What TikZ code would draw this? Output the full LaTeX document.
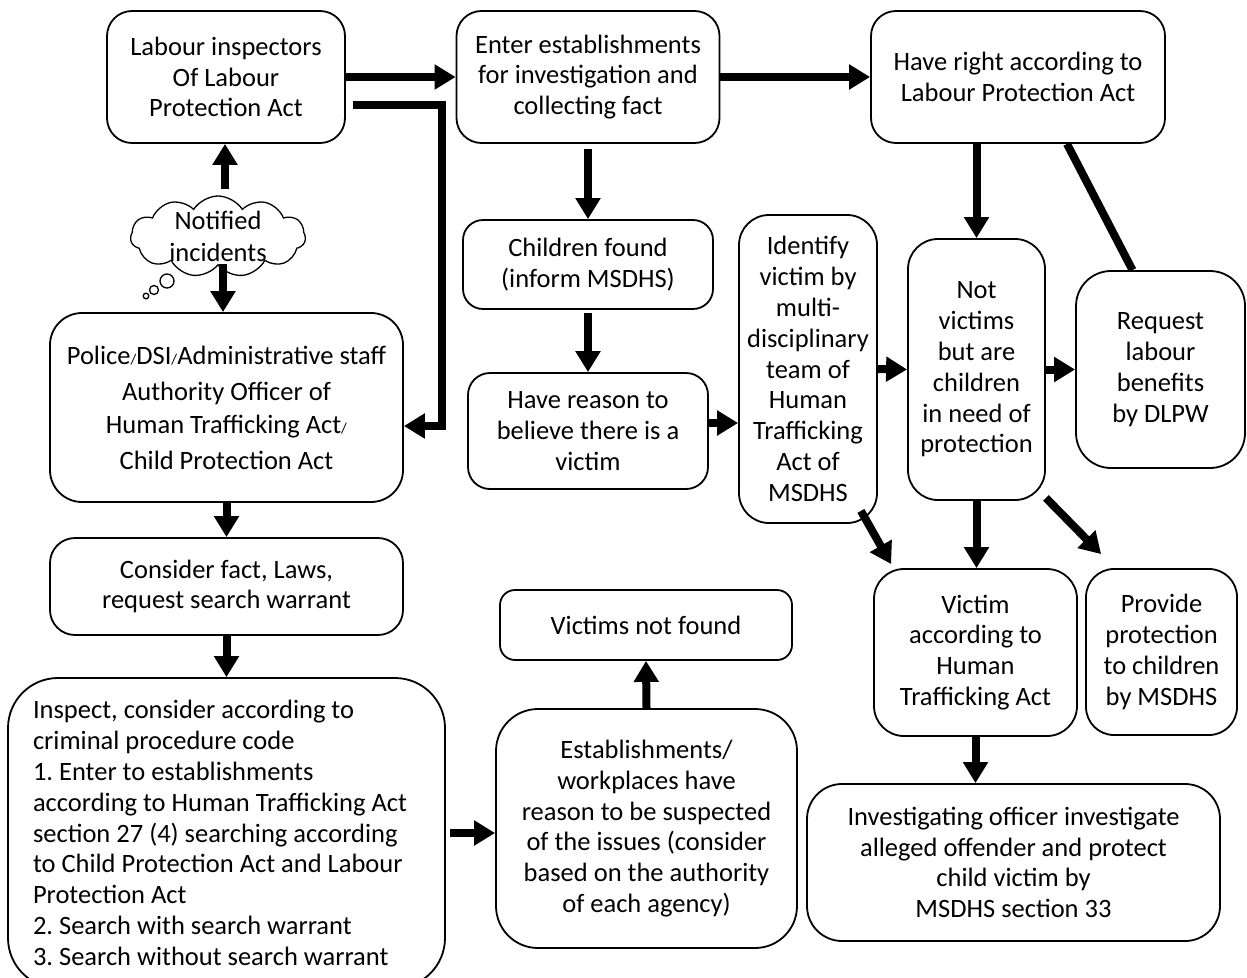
\documentclass[tikz,border=0pt]{standalone}
\usepackage{fontspec}
\setmainfont{Carlito}
\usetikzlibrary{arrows.meta,shapes.symbols,calc}

\newcommand\smallslash{{\fontsize{15}{15}\selectfont/}}

\begin{document}
\frenchspacing
\begin{tikzpicture}[x=1pt,y=-1pt,
  flowbox/.style={draw, line width=1.8pt, rounded corners=25pt, align=center, inner sep=0pt,
    font=\fontsize{26.5}{30.8}\selectfont},
  thickarrow/.style={line width=8pt, -{Triangle[width=24pt,length=21pt]}},
  thickline/.style={line width=8pt}]
  \clip (0,0) rectangle (1247,977);

  % top row
  \node[flowbox, minimum width=238pt, minimum height=132pt] (inspectors) at (226,77) {Labour inspectors\\Of Labour\\Protection Act};
  \node[flowbox, minimum width=263pt, minimum height=132pt] (enter) at (588,77) {Enter establishments\\for investigation and\\collecting fact};
  \node[flowbox, minimum width=294pt, minimum height=132pt] (right) at (1018,77) {Have right according to\\Labour Protection Act};

  % left column, thought cloud with its three bubbles
  \node[cloud, draw, line width=1.3pt, cloud puffs=11, cloud puff arc=115, cloud ignores aspect,
    minimum width=175pt, minimum height=81pt, inner sep=-16pt, align=center,
    font=\fontsize{26.5}{32}\selectfont] (notified) at (218,236.5) {Notified\\incidents};
  \draw[line width=1.3pt] (167,281) circle (7) (154,290) circle (4.5) (146,296) circle (2.8);
  \node[flowbox, minimum width=353pt, minimum height=189pt, rounded corners=32pt] (police) at (226.5,407.5)
    {Police\smallslash DSI\smallslash Administrative staff\\[6pt]Authority Officer of\\[1.5pt]Human Trafficking Act\smallslash\\[5pt]Child Protection Act};
  \node[flowbox, minimum width=353pt, minimum height=97pt] (consider) at (226.5,586.5) {Consider fact, Laws,\\request search warrant};
  \node[flowbox, minimum width=437pt, minimum height=310pt, rounded corners=50pt, align=flush left, text width=387pt] (inspect) at (226.5,833)
    {Inspect, consider according to\\criminal procedure code\\1. Enter to establishments\\according to Human Trafficking Act\\section 27 (4) searching according\\to Child Protection Act and Labour\\Protection Act\\2. Search with search warrant\\3. Search without search warrant};

  % middle column
  \node[flowbox, minimum width=250pt, minimum height=89pt, rounded corners=20pt] (children) at (588,264.5) {Children found\\(inform MSDHS)};
  \node[flowbox, minimum width=240pt, minimum height=116pt, rounded corners=22pt] (reason) at (588,431) {Have reason to\\believe there is a\\victim};
  \node[flowbox, minimum width=292pt, minimum height=70pt, rounded corners=15pt] (notfound) at (646,625) {Victims not found};
  \node[flowbox, minimum width=301pt, minimum height=239pt, rounded corners=42pt] (estab) at (646.5,828.5)
    {Establishments/\\workplaces have\\reason to be suspected\\of the issues (consider\\based on the authority\\of each agency)};

  % right part
  \node[flowbox, minimum width=138pt, minimum height=308pt, rounded corners=30pt] (identify) at (808,369)
    {Identify\\victim by\\multi-\\disciplinary\\team of\\Human\\Trafficking\\Act of\\MSDHS};
  \node[flowbox, minimum width=137pt, minimum height=261pt, rounded corners=30pt] (notvic) at (976.5,369.5)
    {Not\\victims\\but are\\children\\in need of\\protection};
  \node[flowbox, minimum width=169pt, minimum height=197pt, rounded corners=35pt] (request) at (1160.5,369.5)
    {Request\\labour\\benefits\\by DLPW};
  \node[flowbox, minimum width=203pt, minimum height=167pt, rounded corners=30pt] (victim) at (975.5,652.5)
    {Victim\\according to\\Human\\Trafficking Act};
  \node[flowbox, minimum width=151pt, minimum height=166pt, rounded corners=28pt] (provide) at (1161.5,652)
    {Provide\\protection\\to children\\by MSDHS};
  \node[flowbox, minimum width=413pt, minimum height=157pt, rounded corners=35pt] (invest) at (1013.5,862.5)
    {Investigating officer investigate\\alleged offender and protect\\child victim by\\MSDHS section 33};

  % connectors
  \draw[thickarrow] (inspectors.east) -- (enter.west);
  \draw[thickarrow] (enter.east) -- (right.west);
  \draw[thickarrow] ([shift={(7pt,-28pt)}]inspectors.east) -| ([shift={(38pt,-18.5pt)}]police.east) -- ([yshift=-18.5pt]police.east);
  \draw[thickarrow] ($(notified.north)+(7,-6)$) coordinate (cloudtop) -- (cloudtop |- inspectors.south);
  \draw[thickarrow] ($(notified.south)+(5,-2)$) coordinate (cloudbot) -- (cloudbot |- police.north);
  \draw[thickarrow] (police.south) -- (consider.north);
  \draw[thickarrow] (consider.south) -- (inspect.north);
  \draw[thickarrow] ([xshift=4pt]inspect.east) -- (inspect.east -| estab.west);
  \draw[thickarrow] (estab.north) -- (notfound.south);
  \draw[thickarrow] ([yshift=-5pt]enter.south) -- (children.north);
  \draw[thickarrow] ([yshift=-3pt]children.south) -- (reason.north);
  \draw[thickarrow] ([yshift=8pt]reason.east) coordinate (reasonout) -- (reasonout -| identify.west);
  \draw[thickarrow] (identify.east) -- (notvic.west);
  \draw[thickarrow] (notvic.east) -- (request.west);
  \draw[thickarrow] (right.south -| notvic.north) -- (notvic.north);
  \draw[thickline] ([xshift=49pt]right.south) -- ([xshift=-28pt]request.north);
  \draw[thickarrow] ([shift={(-17pt,13pt)}]identify.south east) -- ([shift={(18pt,4pt)}]victim.north west);
  \draw[thickarrow] (notvic.south) -- (notvic.south |- victim.north);
  \draw[thickarrow] ([yshift=3pt]notvic.south east) -- ([shift={(16pt,14pt)}]provide.north west);
  \draw[thickarrow] (victim.south) -- (victim.south |- invest.north);
\end{tikzpicture}
\end{document}
